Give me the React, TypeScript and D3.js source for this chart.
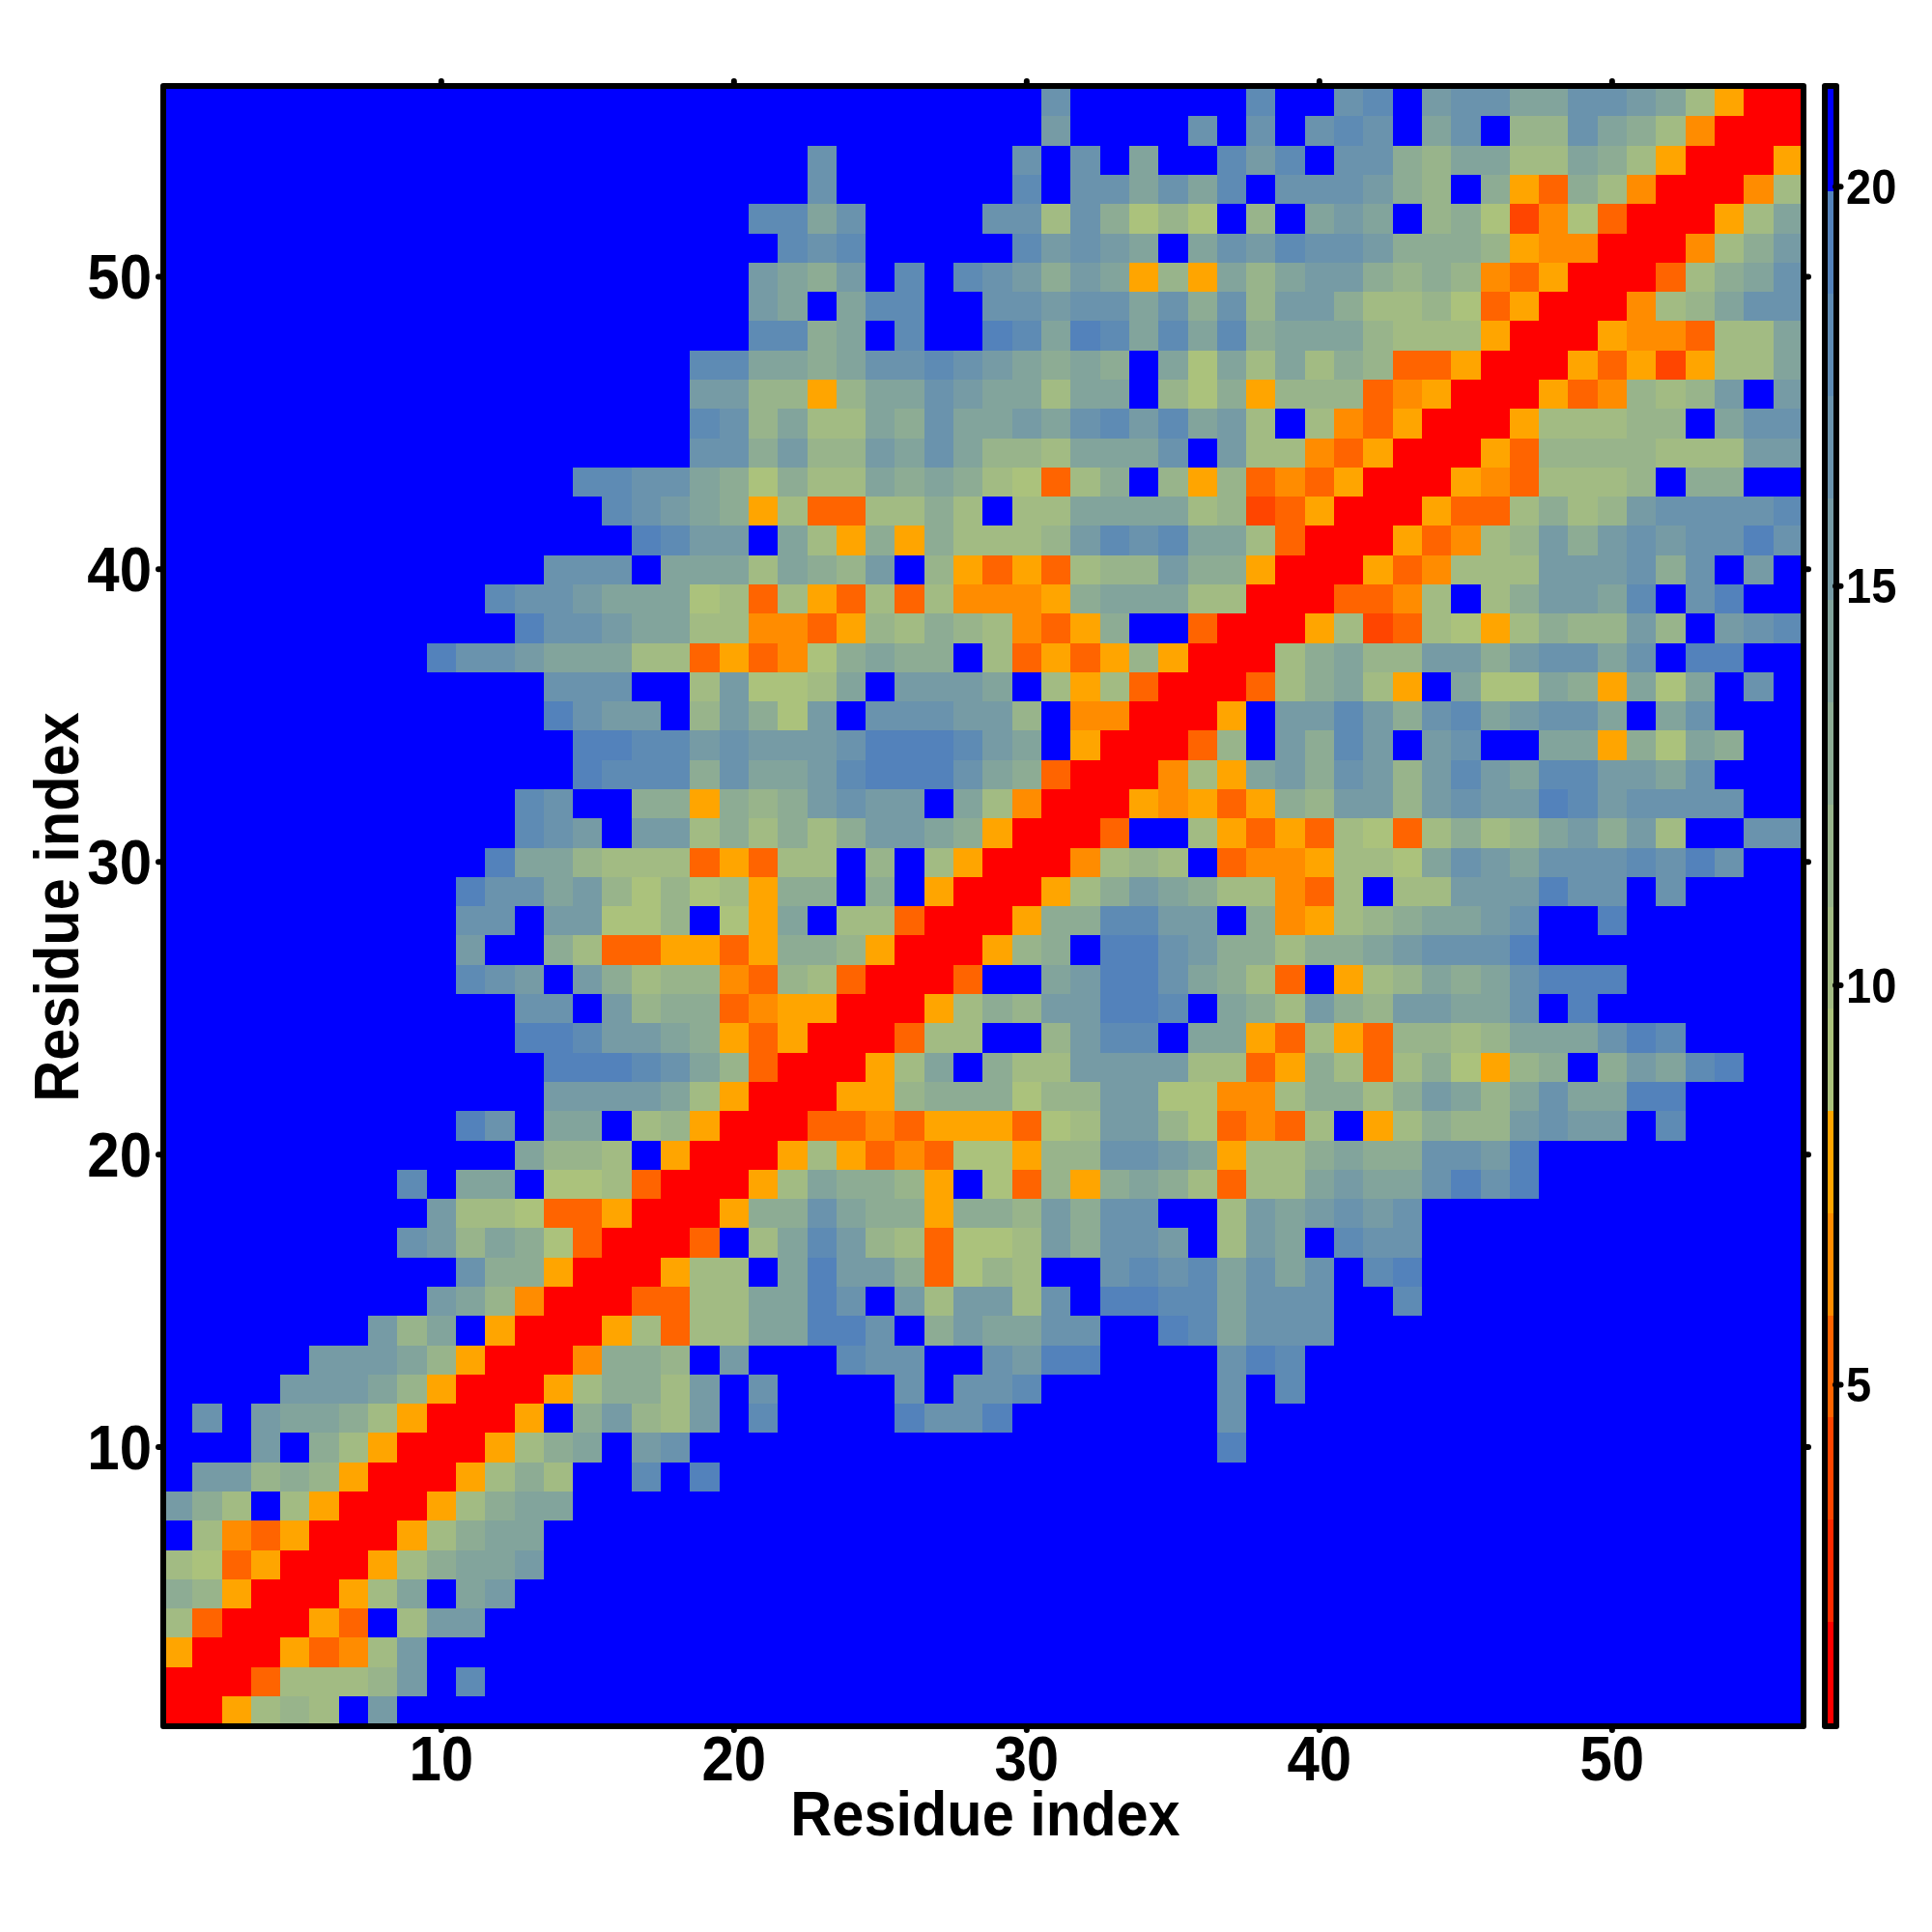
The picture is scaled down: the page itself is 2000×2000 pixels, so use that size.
import React from "react";
import * as d3 from "d3";

// Each string is one matrix row (row 1 first), run-length coded, one letter per colour band.
const MATRIX_ROWS: string[] = [
  "2RWhghBd48B",
  "3RUhhhgdBb45B",
  "W3RWUVhd47B",
  "hU3RWUBhdd45B",
  "fgW3RWheBed44B",
  "hiUW3RWhfeed43B",
  "BhVUW3RWhfee43B",
  "dfhBhW3RWhfee42B",
  "BddgfgW3RWhfhBBbBa37B",
  "3BdBfhW3RWhfeBdc18Ba19B",
  "BcBdeefhW3RWBfdghdBb4Bacca7Bc19B",
  "4BdddegW3RWhffhdBc4BcBccb6BcBb17B",
  "5BdddegW3RVffgBd3BbccBBcdaa4Bcab17B",
  "7BdgeBW3RWhUhheeaacBfdeeccBBabeccc16B",
  "9BdegV3RUUhheeacBdhddhcBaabbecccBBb13B",
  "10BcffW3RWhhBeaddfUighBBcbcbececBba13B",
  "8BcdgefiU3RUBhebdghUiihdfccdBhdeBbcc13B",
  "9BdhhiUUW3RWffceffWffgdfccBBhdedcdc13B",
  "8BbBeeBiihU3RWheffgWBiUgWfefhUhhedeecaca9B",
  "12BegghBW3RWhWUVUiiWggccdeWhhfeffccda9B",
  "10BacBeeBhgW3RUUVUWWWUihddgiUVUhBWhfggdcddBb4B",
  "13BddddehW3RWWgfffiggddiiVVhffhfdegeceeaa4B",
  "13BaaabcegU3RWheBfhhddddhhUWfhUhfiWgfBfdeba2B",
  "12BaabddefWUW3RUhhBBgdbbBeeWUhWUgghgeeecab4B",
  "12BccBdgffUVWW3RWhfgddaabBefhdfgddeecBa7B",
  "10BbcdBdfhggVUghU3RUBBedaacefhUBWhgefecaaa6B",
  "10BdBBfhUUWWUWffgW3RWgfBaacdffhffedccca9B",
  "10BccBddiigBiWeBhhU3RWffbbddBfVWhgfeedcBBa6B",
  "10BaccedgigihWffBfBW3RWhfdefhhVUhBhhdddaccBc4B",
  "11BaeeghhhUWUhhBgBhW3RVhghBUVVWhhiecdecccbcac2B",
  "12BbcdBddhfhfhfddefW3RUBBhWUWUhiUhfhgedfdhBBcc",
  "12BbcBBffWfgfdcddBehV3RWVWUWfgddgdcddabdccccBB",
  "14BabbbfceedbaaacefU3RVhWedfcdgdbdebbddec3B",
  "14BaabbdcdddcaaabdeBW3RUgBdfbdBdcBBeeWfiefBB",
  "13BacddBgdfidBcccddgBVV3RWBddbdfcbedcceBec3B",
  "13Bccc2BhdiiheBdddeBhWhU3RUhfehWBeiiefWeieBcB",
  "9BaccdeeehhUWUVifeffBhUWUWgW3RhfeggddfdccecBaa2B",
  "12BaccdeehhVVUWghfghVUWfBBU3RWhTUhiWhfggdgBdcb",
  "11BbccdeeeihUhWUhUhVVVWfeeehh3RUUVhBhfddebBcaBB",
  "13BcccBeeehefgdBgWUWUhggdffW3RWUVhhhdddcfcBdB",
  "16BabddBehWfWfhhhgdbcbeehU3RWUVhgdfdcdccac",
  "15BbcdefWhUUhhfhBhheeeehgTUW3RWUUhfhgdccccb",
  "14BbbccefifhhefefhiUhfBgWgUVUW3RWVUhhhgBff2B",
  "18BccfdggdeceggheeecBdhhVUW3RWUgggghhhdd",
  "18BbcgehhefceedecbdbedhBhVUW3RWhhhggBecc",
  "18BddggWgeecdeeheeBgifWgggUVW3RWUVghgdBd",
  "18BbbeefeccbcdefefBeiehehfgUUW3RWUWTWhhe",
  "20BbbfeBbBBabeabebebfeeeghhhW3RWVVUhhe",
  "20BdeBebbBBccdccecfcgddfhhgiUW3RVhgecc",
  "20BdefdBbBbcdfdeWgWegeddfgfgVUW3RUhfec",
  "21Bbcb5BbdcdeBecdbccdfffgWVV3RVhfd",
  "20Bbbec4BcchcfigiBgBedeBgfiTViU3RWhe",
  "22Bc6BbBccecebBcccdfgBfWUfhV3RVh",
  "22Bc6BcBcBe2BbdbBccfgeehhefhW3RW",
  "30Bd4BcBcBcbcBecBggcefhV3R",
  "30Bc6Bb2BcbBdcceeccdehW2R",
];

// Band letters from the lowest band of the colour key to the highest.
const BAND_KEYS: string[] = ["R", "Q", "T", "U", "V", "W", "i", "h", "g", "f", "e", "d", "c", "b", "a", "B"];
const BAND_COLORS: string[] = [
  "#ff0000", "#ff2a00", "#ff4500", "#ff6400", "#ff8c00", "#ffa500",
  "#abc27c", "#a2bb83", "#98b48b", "#8dac94", "#82a49c", "#769ba5", "#6a93ad", "#5e8bb4", "#5382bb", "#0000ff",
];

const AXIS_TICKS: number[] = [10, 20, 30, 40, 50];
const KEY_TICKS: number[] = [5, 10, 15, 20];
const AXIS_TITLE = "Residue index";
const INDEX_DOMAIN: [number, number] = [0.6, 56.44];
const KEY_DOMAIN: [number, number] = [0.761, 21.225];

const FONT = "'Liberation Sans', Arial, sans-serif";
const TALL = "scale(1,1.08)";

function decodeRow(row: string): number[] {
  const step = (KEY_DOMAIN[1] - KEY_DOMAIN[0]) / BAND_KEYS.length;
  const out: number[] = [];
  for (const m of row.matchAll(/(\d*)([A-Za-z])/g)) {
    const n = m[1] ? +m[1] : 1;
    const band = BAND_KEYS.indexOf(m[2]);
    for (let i = 0; i < n; i++) out.push(KEY_DOMAIN[0] + (band + 0.5) * step);
  }
  return out;
}

export default function App() {
  const left = 172, right = 1864, top = 92, bottom = 1784;
  const x = d3.scaleLinear().domain(INDEX_DOMAIN).range([left, right]);
  const y = d3.scaleLinear().domain([0.56, 56.42]).range([bottom, top]);
  const keyY = d3.scaleLinear().domain(KEY_DOMAIN).range([bottom, top]);
  const color = d3.scaleQuantize<string>().domain(KEY_DOMAIN).range(BAND_COLORS);
  const rows = MATRIX_ROWS.map(decodeRow);
  const keyStep = (KEY_DOMAIN[1] - KEY_DOMAIN[0]) / BAND_COLORS.length;
  const sw = 6;
  const hf = sw / 2;

  return (
    <svg width={2000} height={2000} viewBox="0 0 2000 2000"
      style={{ position: "absolute", left: 0, top: 0, background: "#fff" }}>
      <defs>
        <clipPath id="plot"><rect x={left} y={top} width={right - left} height={bottom - top} /></clipPath>
      </defs>
      <g clipPath="url(#plot)" shapeRendering="crispEdges">
        {rows.map((vals, r) =>
          vals.map((v, c) => (
            <rect key={`${r}-${c}`}
              x={x(c + 0.5)} width={x(c + 1.5) - x(c + 0.5) + 0.5}
              y={y(r + 1.5)} height={y(r + 0.5) - y(r + 1.5) + 0.5}
              fill={color(v)} />
          ))
        )}
      </g>
      <rect x={left - hf} y={top - hf} width={right - left + sw} height={bottom - top + sw}
        fill="none" stroke="#000" strokeWidth={sw} strokeLinejoin="round" />
      {AXIS_TICKS.map((t) => (
        <g key={t} stroke="#000" strokeWidth={6} strokeLinecap="round">
          <line x1={x(t)} x2={x(t)} y1={bottom + hf} y2={bottom + 7} />
          <line x1={x(t)} x2={x(t)} y1={top - hf} y2={top - 8} />
          <line y1={y(t)} y2={y(t)} x1={left - hf} x2={left - 8} />
          <line y1={y(t)} y2={y(t)} x1={right + hf} x2={right + 8} />
        </g>
      ))}
      <g fontFamily={FONT} fontWeight="bold" fontSize={60} fill="#000">
        {AXIS_TICKS.map((t) => (
          <text key={t} transform={`translate(${x(t)},1843) ${TALL}`} textAnchor="middle">{t}</text>
        ))}
        {AXIS_TICKS.map((t) => (
          <text key={t} transform={`translate(157,${y(t) + 22.5}) ${TALL}`} textAnchor="end">{t}</text>
        ))}
        <text transform={`translate(1020,1900) ${TALL}`} textAnchor="middle" fontSize={59.5}>{AXIS_TITLE}</text>
        <text transform={`translate(81,939) rotate(-90) ${TALL}`} textAnchor="middle" fontSize={59.5}>{AXIS_TITLE}</text>
      </g>
      <g shapeRendering="crispEdges">
        {BAND_COLORS.map((c, i) => {
          const y0 = keyY(KEY_DOMAIN[0] + i * keyStep);
          const y1 = keyY(KEY_DOMAIN[0] + (i + 1) * keyStep);
          return <rect key={c} x={1892} width={6} y={y1} height={y0 - y1 + 0.5} fill={c} />;
        })}
      </g>
      <rect x={1889} y={top - hf} width={12} height={bottom - top + sw}
        fill="none" stroke="#000" strokeWidth={sw} strokeLinejoin="round" />
      {KEY_TICKS.map((t) => (
        <g key={t}>
          <line x1={1900} x2={1905.5} y1={keyY(t)} y2={keyY(t)} stroke="#000" strokeWidth={6} strokeLinecap="round" />
          <text transform={`translate(1911,${keyY(t) + 17.5}) ${TALL}`} fontFamily={FONT} fontWeight="bold" fontSize={47} fill="#000">{t}</text>
        </g>
      ))}
    </svg>
  );
}
